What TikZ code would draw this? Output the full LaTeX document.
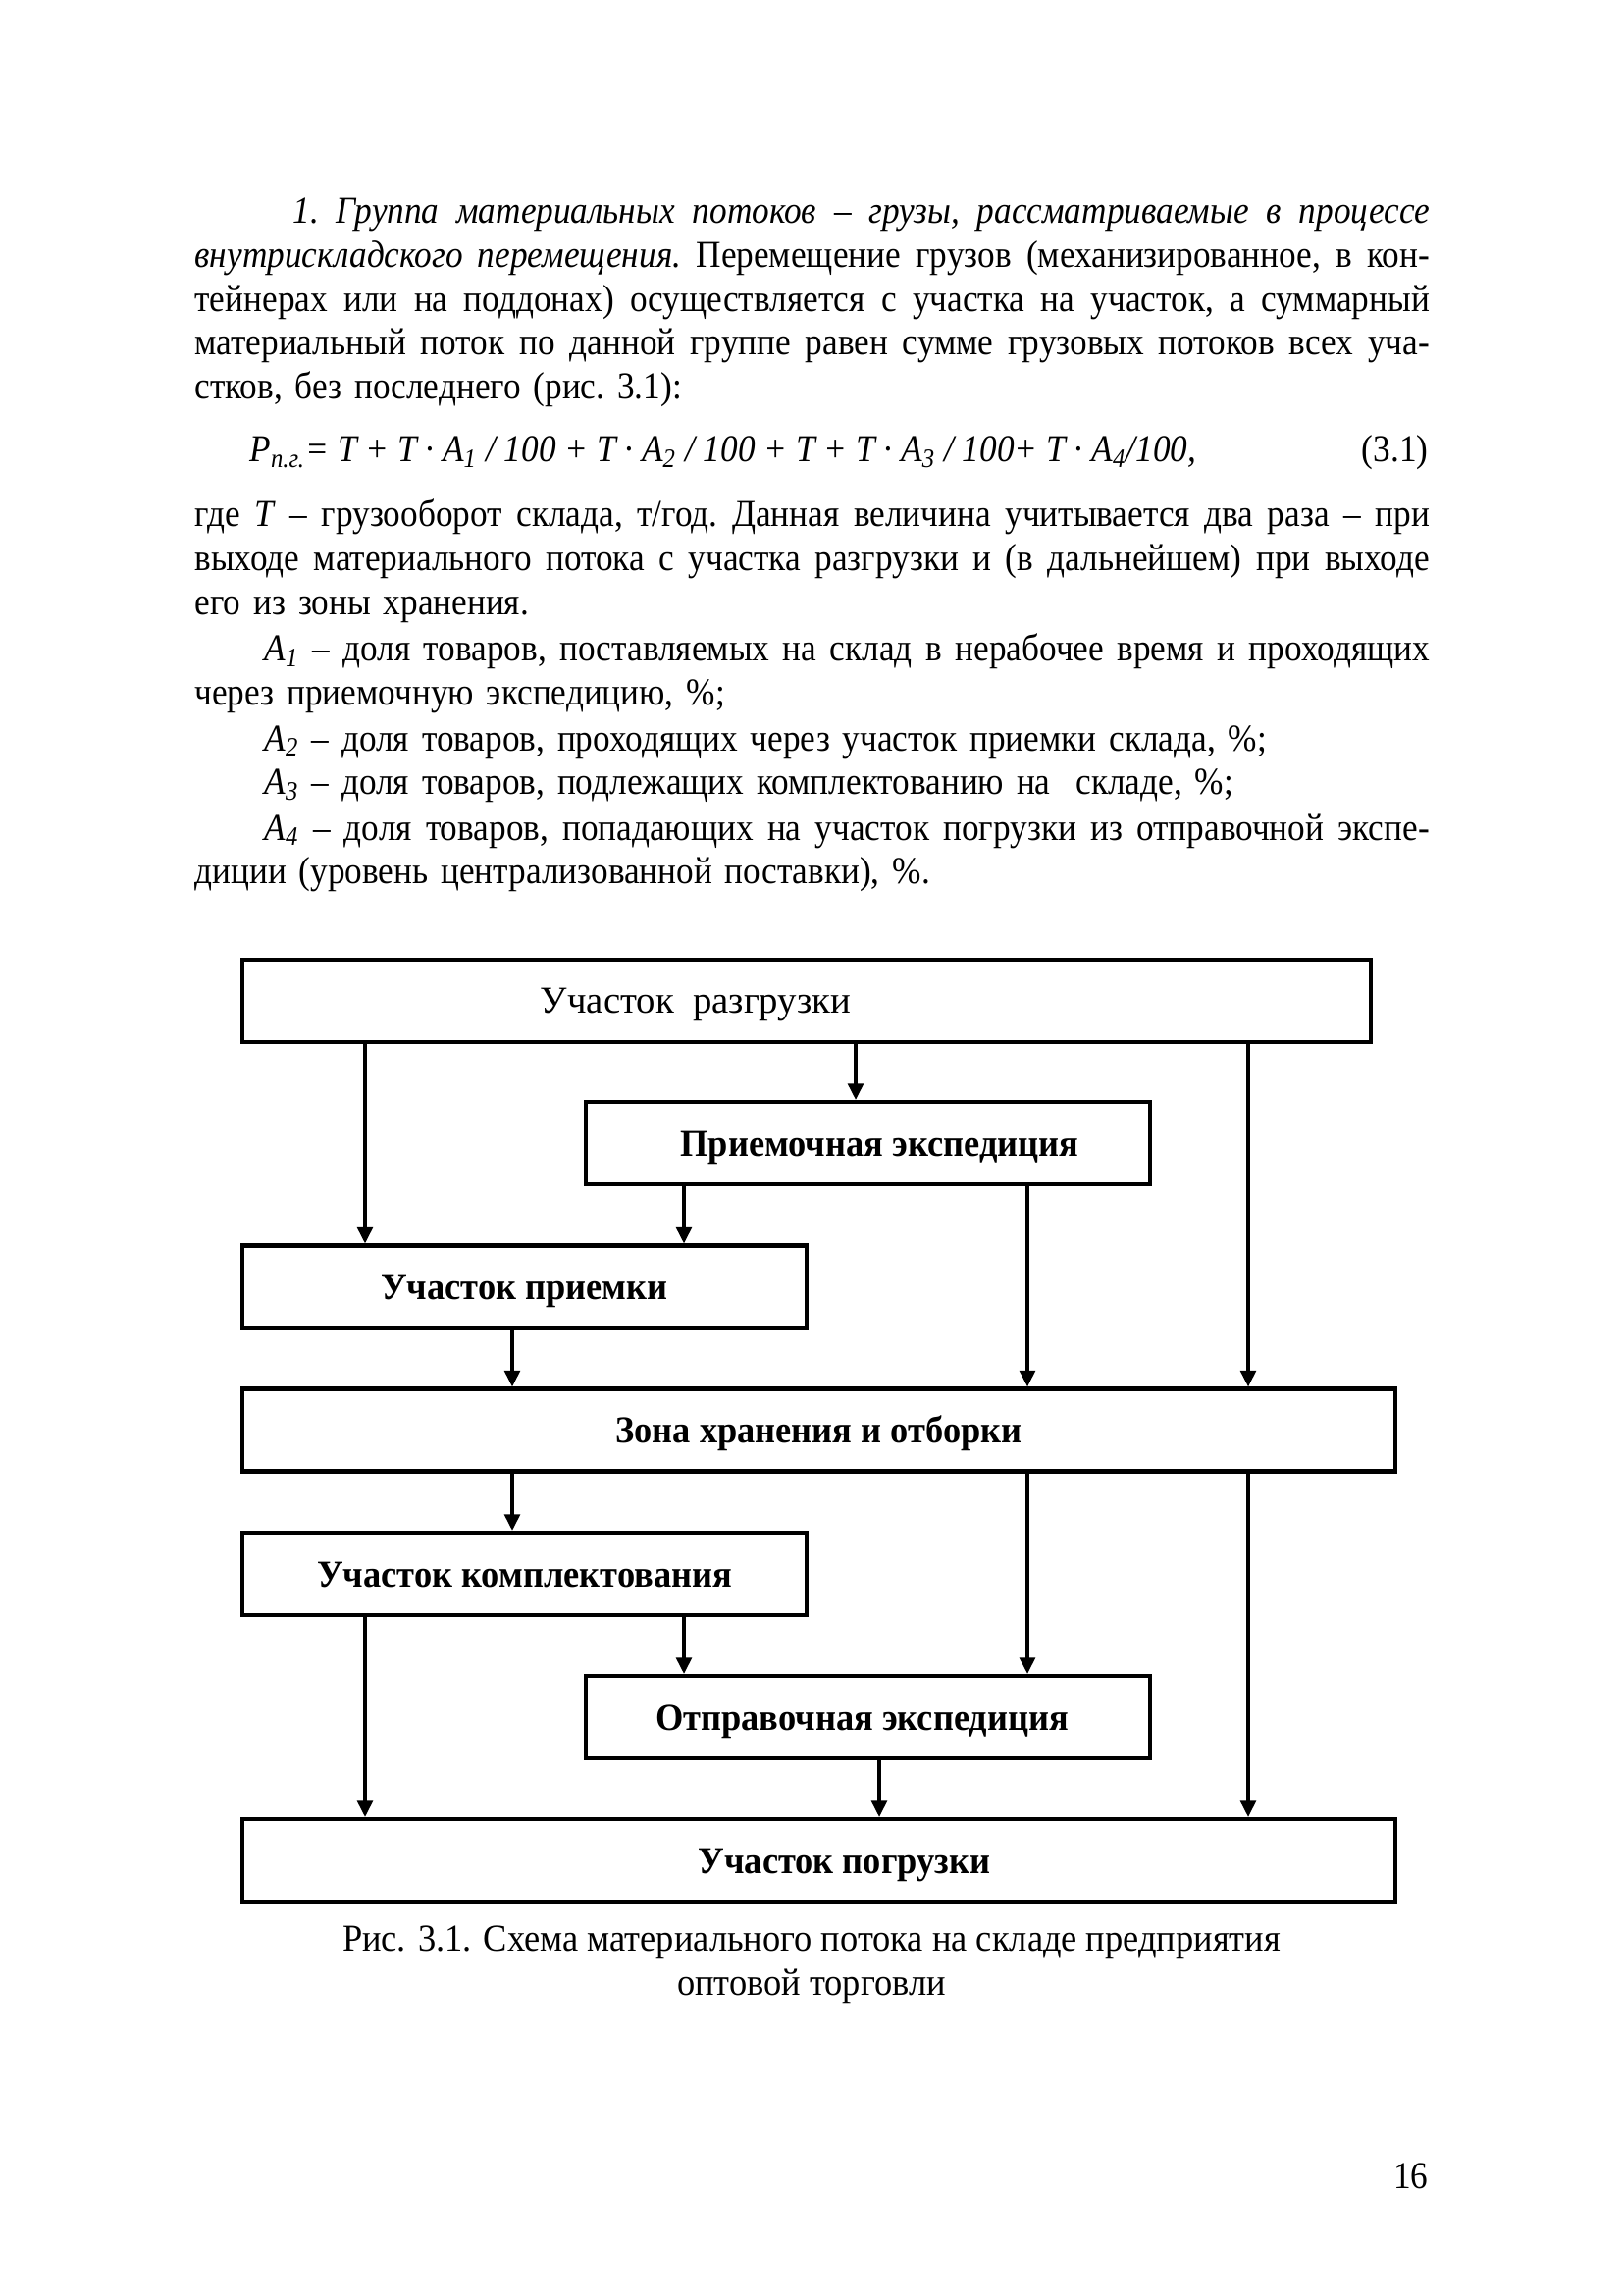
\documentclass[tikz,border=0pt]{standalone}
\usepackage{fontspec}
\setmainfont{Liberation Serif}[FakeStretch=0.91]
\newfontfamily\schemafont{Liberation Serif}[FakeStretch=0.94]
\newfontfamily\shapkafont{Liberation Serif}
\usetikzlibrary{arrows.meta}

\newcommand{\stroka}[1]{\makebox[159.8mm][s]{\spaceskip=0.25em plus 0.4em minus 0.05em #1}}

\tikzset{
  abzac/.style={text width=159.8mm, align=left, inner sep=0pt, anchor=base west,
    font=\fontsize{14}{16.1}\selectfont\frenchspacing},
  blok/.style={draw, line width=1.5pt, minimum height=10.67mm, inner sep=0pt,
    text height=3.3mm, text depth=0pt,
    font=\fontsize{14}{16}\selectfont\schemafont\bfseries},
  uzkij/.style={blok, minimum width=73mm},
  shirokij/.style={blok, minimum width=149.2mm},
  strelka/.style={line width=1.2pt, -{Triangle[length=2.1mm,width=2mm]}},
}

\begin{document}
\begin{tikzpicture}[x=0.127mm, y=-0.127mm]
  \fill[white] (0,0) rectangle (1654,2339);
  \useasboundingbox (0,0) rectangle (1654,2339);

  % Text above the scheme
  \node[abzac] (abz1) at (198,228) {%
    \stroka{\hspace*{12.7mm}\textit{1. Группа материальных потоков – грузы, рассматриваемые в процессе}}\\
    \stroka{\textit{внутрискладского перемещения.} Перемещение грузов (механизированное, в кон-}\\
    \stroka{тейнерах или на поддонах) осуществляется с участка на участок, а суммарный}\\
    \stroka{материальный поток по данной группе равен сумме грузовых потоков всех уча-}\\
    стков, без последнего (рис. 3.1):};
  \node[anchor=base west, inner sep=0pt, font=\fontsize{14}{16.1}\selectfont\itshape] (formula) at (254,471)
    {P\textsubscript{п.г.}= T + T · A\textsubscript{1} / 100 + T · A\textsubscript{2} / 100 + T + T · A\textsubscript{3} / 100+ T · A\textsubscript{4}/100,};
  \node[anchor=base east, inner sep=0pt, font=\fontsize{14}{16.1}\selectfont] (nomer) at (1456,471) {(3.1)};
  \node[abzac] (abz2) at (198,537) {%
    \stroka{где \textit{T} – грузооборот склада, т/год. Данная величина учитывается два раза – при}\\
    \stroka{выходе материального потока с участка разгрузки и (в дальнейшем) при выходе}\\
    его из зоны хранения.};
  \node[abzac] (abz3) at (198,674) {%
    \stroka{\hspace*{9mm}\textit{A}\textsubscript{\textit{1}} – доля товаров, поставляемых на склад в нерабочее время и проходящих}\\
    через приемочную экспедицию, \%;};
  \node[abzac] (abz4) at (198,765) {\hspace*{9mm}\textit{A}\textsubscript{\textit{2}} – доля товаров, проходящих через участок приемки склада, \%;};
  \node[abzac] (abz5) at (198,810) {\hspace*{9mm}\textit{A}\textsubscript{\textit{3}} – доля товаров, подлежащих комплектованию на~ складе, \%;};
  \node[abzac] (abz6) at (198,856) {%
    \stroka{\hspace*{9mm}\textit{A}\textsubscript{\textit{4}} – доля товаров, попадающих на участок погрузки из отправочной экспе-}\\
    диции (уровень централизованной поставки), \%.};

  % Scheme blocks
  \node[blok, minimum width=146.05mm, font=\fontsize{14}{16}\selectfont\shapkafont] (razgruzka) at (822,1020)
    {Участок~ разгрузки\hspace*{28.7mm}};
  \node[uzkij] (priemExp) at (884.5,1165) {\hspace*{3mm}Приемочная экспедиция};
  \node[uzkij] (priemka) at (534.5,1311.5) {Участок приемки};
  \node[shirokij] (hranenie) at (834.5,1457.5) {Зона хранения и отборки};
  \node[uzkij] (komplekt) at (534.5,1604) {Участок комплектования};
  \node[uzkij] (otprExp) at (884.5,1750) {Отправочная экспедиция\hspace*{1.5mm}};
  \node[shirokij] (pogruzka) at (834.5,1896) {\hspace*{6.6mm}Участок погрузки};

  % Columns of the arrows
  \coordinate (k1) at (372,0);
  \coordinate (k2) at (522,0);
  \coordinate (k3) at (697,0);
  \coordinate (k4) at (872,0);
  \coordinate (k5) at (896,0);
  \coordinate (k6) at (1047,0);
  \coordinate (k7) at (1272,0);

  % Arrows
  \draw[strelka] (razgruzka.south -| k1) -- (priemka.north -| k1);
  \draw[strelka] (razgruzka.south -| k4) -- (priemExp.north -| k4);
  \draw[strelka] (razgruzka.south -| k7) -- (hranenie.north -| k7);
  \draw[strelka] (priemExp.south -| k3) -- (priemka.north -| k3);
  \draw[strelka] (priemExp.south -| k6) -- (hranenie.north -| k6);
  \draw[strelka] (priemka.south -| k2) -- (hranenie.north -| k2);
  \draw[strelka] (hranenie.south -| k2) -- (komplekt.north -| k2);
  \draw[strelka] (hranenie.south -| k6) -- (otprExp.north -| k6);
  \draw[strelka] (hranenie.south -| k7) -- (pogruzka.north -| k7);
  \draw[strelka] (komplekt.south -| k1) -- (pogruzka.north -| k1);
  \draw[strelka] (komplekt.south -| k3) -- (otprExp.north -| k3);
  \draw[strelka] (otprExp.south -| k5) -- (pogruzka.north -| k5);

  % Caption and page number
  \node[anchor=base, align=center, inner sep=0pt, font=\fontsize{14}{16.1}\selectfont\schemafont] (podpis) at (827,2033)
    {Рис. 3.1. Схема материального потока на складе предприятия\\оптовой торговли};
  \node[anchor=base east, inner sep=0pt, font=\fontsize{14}{16.1}\selectfont] (stranica) at (1456,2230) {16};
\end{tikzpicture}
\end{document}
